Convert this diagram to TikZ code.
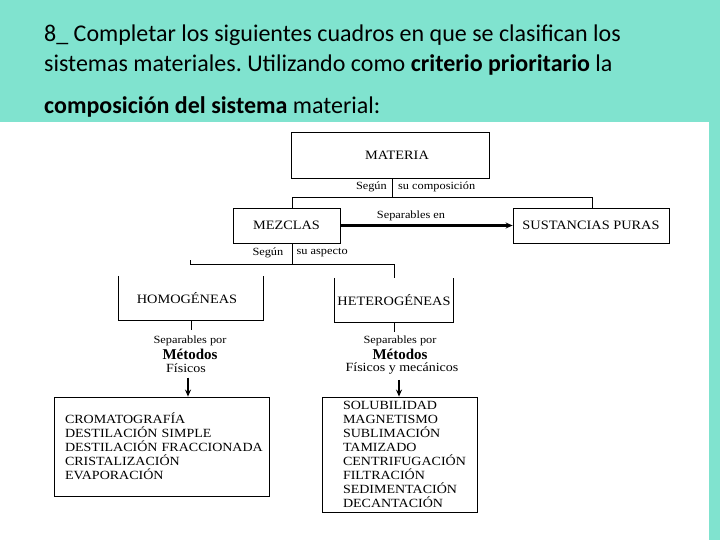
\documentclass[tikz,border=0pt]{standalone}
\usepackage{fontspec}
\setmainfont{Liberation Serif}
\newfontfamily\titulofont{Carlito}
\newfontfamily\cuadrofont[FakeStretch=1.12]{Liberation Serif}
\usetikzlibrary{
  arrows.meta,
  positioning,
  calc
}
\definecolor{fundo}{HTML}{80E3CF}
\frenchspacing

\begin{document}
\begin{tikzpicture}[
      x=1pt, y=-1pt,
      >={Stealth[length=7pt,width=6pt]},
      caixa/.style={draw, line width=0.8pt, inner sep=0pt, font=\cuadrofont\fontsize{12.8}{15}\selectfont},
      aberta/.style={inner sep=0pt, font=\cuadrofont\fontsize{12.8}{15}\selectfont},
      lista/.style={draw, line width=0.8pt, inner ysep=0pt, align=left, font=\cuadrofont\fontsize{12.5}{14}\selectfont},
      rotulo/.style={inner sep=0pt, font=\cuadrofont\fontsize{11}{12}\selectfont},
      fisico/.style={inner sep=0pt, font=\cuadrofont\fontsize{12.5}{13}\selectfont},
      metodo/.style={inner sep=0pt, font=\fontsize{15}{16}\selectfont\bfseries},
      titulo/.style={inner sep=0pt, anchor=base west, font=\titulofont\fontsize{24}{26}\selectfont},
      linha/.style={line width=0.8pt},
      seta/.style={->, line width=2.5pt},
      setafina/.style={->, line width=2pt}
  ]
      % Fundo
      \useasboundingbox (0,0) rectangle (720,540);
      \fill[fundo] (0,0) rectangle (720,540);
      \fill[white] (0,122) rectangle (709,540);

      % Enunciado
      \node[titulo] (t1) at (44,42) {8\_ Completar los siguientes cuadros en que se clasifican los};
      \node[titulo] (t2) at (44,72) {sistemas materiales. Utilizando como \textbf{criterio prioritario} la};
      \node[titulo] (t3) at (44,114) {\textbf{composición del sistema} material:};

      % Cuadros
      \node[caixa, minimum width=198, minimum height=46] (materia) at (390,155) {\hspace*{14pt}MATERIA};
      \node[caixa, minimum width=107, minimum height=35] (mezclas) at (286.5,225.5) {MEZCLAS};
      \node[caixa, minimum width=156, minimum height=35] (puras) at (591,225.5) {SUSTANCIAS PURAS};
      \node[aberta, minimum width=144, minimum height=44] (homo) at (191,298) {\hspace*{-8pt}HOMOGÉNEAS};
      \node[aberta, minimum width=118, minimum height=44] (hetero) at (394,300) {HETEROGÉNEAS};
      \draw[linha] (homo.north west) -- (homo.south west) -- (homo.south east) -- (homo.north east);
      \draw[linha] (hetero.north west) -- (hetero.south west) -- (hetero.south east) -- (hetero.north east);

      % Según su composición
      \coordinate (c1) at ($(materia.south)+(2,19)$);
      \draw[linha] ($(materia.south)+(2,0)$) -- (c1);
      \draw[linha] ($(mezclas.north)+(5.5,0)$) |- (c1) -| ($(puras.north)+(1,0)$);
      \node[rotulo, anchor=east] (seg1) at ($(materia.south)+(-3,8)$) {Según};
      \node[rotulo, anchor=west] (comp) at ($(materia.south)+(8,8)$) {su composición};

      % Separables en
      \draw[seta] (mezclas.east) -- (puras.west) node[rotulo, pos=0.41, above=3pt] {Separables en};

      % Según su aspecto
      \coordinate (c2) at ($(mezclas.south)+(5.5,21)$);
      \draw[linha] ($(mezclas.south)+(5.5,0)$) -- (c2);
      \draw[linha] (c2) -| (hetero.north);
      \draw[linha] (c2) -- ++(-102,0) -- ++(0,-4);
      \node[rotulo, anchor=east] (seg2) at ($(mezclas.south)+(-3,9)$) {Según};
      \node[rotulo, anchor=west] (asp) at ($(mezclas.south)+(10,9)$) {su aspecto};

      % Métodos físicos
      \node[rotulo] (sep1) at (190,341) {Separables por};
      \node[metodo] (met1) at (190,354) {Métodos};
      \node[fisico] (fis1) at (186,368) {Físicos};
      \draw[linha] (homo.south) -- ++(0,10);
      \node[lista, inner xsep=11pt, text width=193pt, minimum height=99] (lista1) at (161.5,446.5)
        {CROMATOGRAFÍA\\DESTILACIÓN SIMPLE\\\mbox{DESTILACIÓN FRACCIONADA}\\CRISTALIZACIÓN\\EVAPORACIÓN};
      \draw[setafina] (fis1.south -| 188,0) ++(0,5) -- (lista1.north -| 188,0);

      % Métodos físicos y mecánicos
      \node[rotulo] (sep2) at (400,341) {Separables por};
      \node[metodo] (met2) at (400,354) {Métodos};
      \node[fisico] (fis2) at (402,369) {Físicos y mecánicos};
      \draw[linha] (hetero.south) -- ++(0,10);
      \node[lista, inner xsep=21pt, text width=113pt, minimum height=115] (lista2) at (399.5,454.5)
        {SOLUBILIDAD\\MAGNETISMO\\SUBLIMACIÓN\\TAMIZADO\\\mbox{CENTRIFUGACIÓN}\\FILTRACIÓN\\\mbox{SEDIMENTACIÓN}\\DECANTACIÓN};
      \draw[setafina] (fis2.south -| 399,0) ++(0,5) -- (lista2.north -| 399,0);
  \end{tikzpicture}
\end{document}
